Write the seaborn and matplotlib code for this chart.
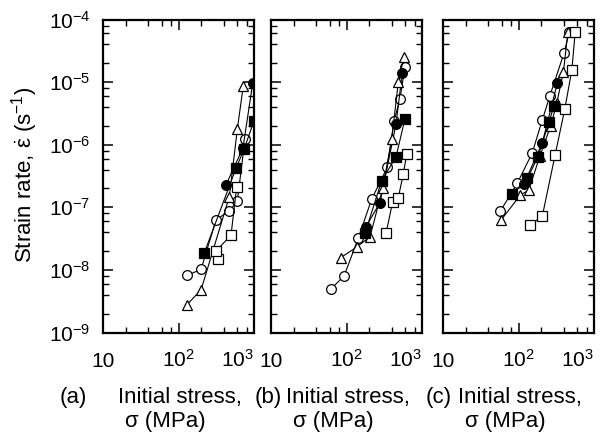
import numpy as np
import pandas as pd
import matplotlib
matplotlib.use('Agg')
import matplotlib.pyplot as plt
import seaborn as sns
from matplotlib.ticker import LogLocator, NullFormatter

# ---------------- data ----------------
panels = ['a', 'b', 'c']
panel_letters = ['(a)', '(b)', '(c)']
xlabel_line1 = 'Initial stress,'
xlabel_line2 = 'σ (MPa)'
x_ticks = [10, 100, 1000]
x_tick_labels = ['10', '10$^2$', '10$^3$']
y_ticks = [1e-9, 1e-8, 1e-7, 1e-6, 1e-5, 1e-4]
y_tick_labels = ['10$^{-9}$', '10$^{-8}$', '10$^{-7}$', '10$^{-6}$', '10$^{-5}$', '10$^{-4}$']
ylabel = r'Strain rate, $\dot{\mathrm{ε}}$ (s$^{-1}$)'

# panel (a)
a_oc_x = [131, 199, 314, 473, 601, 760]
a_oc_y = [8.2e-9, 1.02e-8, 6.3e-8, 8.8e-8, 1.26e-7, 1.22e-6]
a_fc_x = [425, 715, 961]
a_fc_y = [2.27e-7, 8.9e-7, 9.6e-6]
a_ot_x = [130, 199, 471, 601, 721]
a_ot_y = [2.8e-9, 4.8e-9, 1.48e-7, 1.76e-6, 8.7e-6]
a_fs_x = [220, 578, 737, 1000]
a_fs_y = [1.88e-8, 4.2e-7, 8.4e-7, 2.4e-6]
a_os_x = [337, 314, 496, 590]
a_os_y = [1.48e-8, 2.0e-8, 3.6e-8, 2.13e-7]

# panel (b)
b_oc_x = [62, 93, 143, 216, 347, 426, 511, 595]
b_oc_y = [4.95e-9, 8.0e-9, 3.2e-8, 1.36e-7, 4.35e-7, 2.4e-6, 5.4e-6, 1.76e-5]
b_fc_x = [181, 278, 453, 548]
b_fc_y = [4.9e-8, 1.19e-7, 2.14e-6, 1.41e-5]
b_ot_x = [84, 139, 205, 301, 397, 485, 578]
b_ot_y = [1.57e-8, 2.35e-8, 3.4e-8, 2.0e-7, 1.22e-6, 9.9e-6, 2.5e-5]
b_fs_x = [176, 292, 453, 595]
b_fs_y = [3.85e-8, 2.66e-7, 6.4e-7, 2.6e-6]
b_os_x = [334, 409, 485, 565, 627]
b_os_y = [3.85e-8, 1.23e-7, 1.42e-7, 3.4e-7, 7.0e-7]

# panel (c)
c_oc_x = [57.5, 96, 152, 207, 261, 402, 469]
c_oc_y = [8.7e-8, 2.4e-7, 7.4e-7, 2.5e-6, 6.1e-6, 2.95e-5, 6.2e-5]
c_fc_x = [118, 207, 328]
c_fc_y = [2.35e-7, 1.08e-6, 9.8e-6]
c_ot_x = [59, 106, 137, 192, 267, 321, 394, 450]
c_ot_y = [6.3e-8, 1.57e-7, 1.89e-7, 6.6e-7, 2.0e-6, 4.6e-6, 1.47e-5, 6.2e-5]
c_fs_x = [82, 131, 181, 254, 296]
c_fs_y = [1.63e-7, 2.9e-7, 6.4e-7, 2.33e-6, 4.2e-6]
c_os_x = [144, 207, 305, 410, 509, 563]
c_os_y = [5.2e-8, 7.3e-8, 6.8e-7, 3.7e-6, 1.56e-5, 6.2e-5]

series_data = {
    'a': {'oc': (a_oc_x, a_oc_y), 'fc': (a_fc_x, a_fc_y), 'ot': (a_ot_x, a_ot_y),
          'fs': (a_fs_x, a_fs_y), 'os': (a_os_x, a_os_y)},
    'b': {'oc': (b_oc_x, b_oc_y), 'fc': (b_fc_x, b_fc_y), 'ot': (b_ot_x, b_ot_y),
          'fs': (b_fs_x, b_fs_y), 'os': (b_os_x, b_os_y)},
    'c': {'oc': (c_oc_x, c_oc_y), 'fc': (c_fc_x, c_fc_y), 'ot': (c_ot_x, c_ot_y),
          'fs': (c_fs_x, c_fs_y), 'os': (c_os_x, c_os_y)},
}
styles = {
    'oc': dict(marker='o', markerfacecolor='white'),
    'fc': dict(marker='o', markerfacecolor='black'),
    'ot': dict(marker='^', markerfacecolor='white'),
    'fs': dict(marker='s', markerfacecolor='black'),
    'os': dict(marker='s', markerfacecolor='white'),
}

rows = []
for p in panels:
    for s, (xs, ys) in series_data[p].items():
        for i, (xv, yv) in enumerate(zip(xs, ys)):
            rows.append(dict(panel=p, series=s, order=i, stress=xv, rate=yv))
df = pd.DataFrame(rows)

# ---------------- style ----------------
sns.set_theme(style='ticks')
plt.rcParams['font.family'] = ['Liberation Sans', 'DejaVu Sans']
plt.rcParams['mathtext.fontset'] = 'custom'
plt.rcParams['mathtext.rm'] = 'Liberation Sans'
plt.rcParams['mathtext.it'] = 'Liberation Sans:italic'
plt.rcParams['mathtext.default'] = 'regular'

W, H = 610, 438
fig = plt.figure(figsize=(W / 100, H / 100), dpi=100)
fig.patch.set_facecolor('white')

ax_left_px = [103, 271, 443]
ax_w_px = 151
ax_top_px, ax_bot_px = 19.5, 332.5
FS_TICK = 15
FS_CAP = 16

for k, p in enumerate(panels):
    ax = fig.add_axes([ax_left_px[k] / W, 1 - ax_bot_px / H,
                       ax_w_px / W, (ax_bot_px - ax_top_px) / H])
    ax.set_facecolor('white')
    ax.set_xscale('log')
    ax.set_yscale('log')
    sub = df[df.panel == p]
    for s, st in styles.items():
        d = sub[sub.series == s].sort_values('order')
        sns.lineplot(data=d, x='stress', y='rate', ax=ax, sort=False, estimator=None,
                     color='black', linewidth=0.8, markeredgecolor='black',
                     markersize=7, markeredgewidth=0.9, **st)
    ax.set_xlim(10, 1000)
    ax.set_ylim(1e-9, 1e-4)
    ax.set_xticks(x_ticks, x_tick_labels)
    if k == 0:
        ax.set_yticks(y_ticks, y_tick_labels)
    else:
        ax.set_yticks(y_ticks, [''] * len(y_ticks))
    ax.xaxis.set_minor_locator(LogLocator(base=10, subs=[2, 4, 6, 8], numticks=20))
    ax.yaxis.set_minor_locator(LogLocator(base=10, subs=[2, 4, 6, 8], numticks=20))
    ax.xaxis.set_minor_formatter(NullFormatter())
    ax.yaxis.set_minor_formatter(NullFormatter())
    ax.tick_params(which='both', direction='in', top=True, right=True,
                   color='black', labelcolor='black', labelsize=FS_TICK)
    ax.tick_params(which='major', length=7, width=1.1)
    ax.tick_params(which='minor', length=4, width=1.0)
    ax.tick_params(axis='x', which='major', pad=25)
    ax.tick_params(axis='y', which='major', pad=9)
    xl = ax.get_xticklabels()
    for t in xl:
        t.set_verticalalignment('baseline')
    xl[-1].set_horizontalalignment('right')
    for sp in ax.spines.values():
        sp.set_linewidth(1.6)
        sp.set_color('black')
    ax.set_xlabel('')
    ax.set_ylabel('')

    # x-axis caption
    L = ax_left_px[k]
    letter_dx = [-30, -3, -4][k]
    fig.text((L + letter_dx) / W, 1 - 397 / H, panel_letters[k], ha='center', va='center',
             fontsize=FS_CAP, color='black')
    fig.text((L + 77) / W, 1 - 397 / H, xlabel_line1, ha='center', va='center',
             fontsize=FS_CAP, color='black')
    fig.text((L + 62) / W, 1 - 422 / H, xlabel_line2, ha='center', va='center',
             fontsize=FS_CAP, color='black')

fig.text(25 / W, 1 - 175 / H, ylabel, rotation=90, ha='center', va='center',
         fontsize=16, color='black')

fig.savefig('out.png', dpi=100, facecolor='white')
